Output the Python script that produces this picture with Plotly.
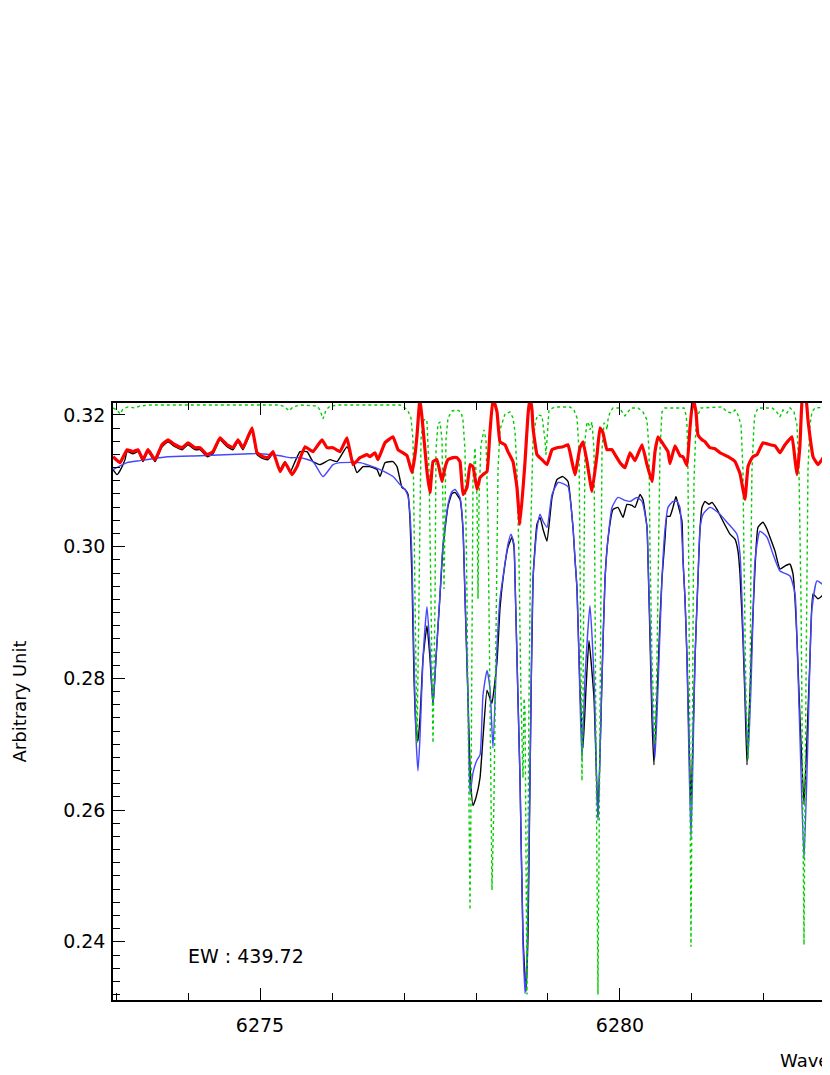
import plotly.graph_objects as go

# ---- data (wavelength in Angstrom, flux in arbitrary units) ----
blue_wl = [6272.958, 6273.153, 6273.333, 6273.708, 6274.167, 6274.861, 6275.000, 6275.278, 6275.417, 6275.556,
           6275.736, 6275.875, 6276.014, 6276.111, 6276.389, 6276.486, 6276.667, 6276.847, 6276.944, 6277.014,
           6277.056, 6277.083, 6277.111, 6277.139, 6277.167, 6277.194, 6277.222, 6277.264, 6277.319, 6277.361,
           6277.403, 6277.444, 6277.500, 6277.542, 6277.611, 6277.667, 6277.708, 6277.778, 6277.819, 6277.847,
           6277.889, 6277.917, 6277.958, 6278.014, 6278.056, 6278.097, 6278.153, 6278.194, 6278.236, 6278.292,
           6278.333, 6278.375, 6278.444, 6278.486, 6278.528, 6278.542, 6278.583, 6278.611, 6278.653, 6278.681,
           6278.708, 6278.750, 6278.792, 6278.847, 6278.889, 6278.931, 6278.986, 6279.056, 6279.139, 6279.208,
           6279.278, 6279.347, 6279.375, 6279.403, 6279.444, 6279.472, 6279.514, 6279.583, 6279.639, 6279.694,
           6279.750, 6279.792, 6279.833, 6279.889, 6279.972, 6280.069, 6280.139, 6280.236, 6280.306, 6280.375,
           6280.389, 6280.417, 6280.444, 6280.486, 6280.528, 6280.583, 6280.625, 6280.667, 6280.736, 6280.792,
           6280.833, 6280.875, 6280.903, 6280.931, 6280.958, 6280.986, 6281.014, 6281.042, 6281.083, 6281.111,
           6281.153, 6281.250, 6281.389, 6281.486, 6281.625, 6281.667, 6281.708, 6281.736, 6281.778, 6281.819,
           6281.847, 6281.875, 6281.944, 6282.042, 6282.125, 6282.222, 6282.361, 6282.431, 6282.458, 6282.500,
           6282.556, 6282.611, 6282.639, 6282.667, 6282.736, 6282.806, 6282.875, 6282.917]
blue_flux = [0.31170, 0.31275, 0.31306, 0.31366, 0.31381, 0.31411, 0.31411, 0.31381, 0.31351, 0.31351,
             0.31291, 0.31064, 0.31245, 0.31275, 0.31275, 0.31245, 0.31170, 0.31064, 0.30943, 0.30868,
             0.30762, 0.30491, 0.29811, 0.28302, 0.27094, 0.26596, 0.27094, 0.28302, 0.29087, 0.28453,
             0.27592, 0.28302, 0.29283, 0.30038, 0.30642, 0.30838, 0.30868, 0.30747, 0.30294, 0.29283,
             0.27698, 0.26234, 0.26566, 0.26762, 0.26838, 0.27743, 0.28121, 0.27849, 0.26943, 0.28498,
             0.29208, 0.29540, 0.30038, 0.30189, 0.30038, 0.29509, 0.27698, 0.26491, 0.23970, 0.23215,
             0.23728, 0.26491, 0.29509, 0.30264, 0.30491, 0.30385, 0.30294, 0.30792, 0.30974, 0.30958,
             0.30913, 0.30294, 0.29811, 0.29358, 0.27698, 0.26762, 0.28000, 0.29102, 0.28000, 0.25842,
             0.28000, 0.29509, 0.30113, 0.30596, 0.30747, 0.30702, 0.30687, 0.30747, 0.30687, 0.30294,
             0.29811, 0.28785, 0.27698, 0.26792, 0.27849, 0.29509, 0.30264, 0.30596, 0.30687, 0.30687,
             0.30596, 0.29781, 0.29208, 0.28272, 0.26792, 0.25585, 0.26792, 0.28302, 0.29509, 0.30264,
             0.30491, 0.30596, 0.30491, 0.30370, 0.30189, 0.29887, 0.28785, 0.27849, 0.26792, 0.27849,
             0.28906, 0.29781, 0.30234, 0.30143, 0.29887, 0.29630, 0.29555, 0.29283, 0.28604, 0.27094,
             0.25253, 0.27094, 0.28302, 0.29057, 0.29479, 0.29434, 0.29328, 0.29283]

black_wl = [6272.958, 6273.014, 6273.056, 6273.125, 6273.153, 6273.236, 6273.306, 6273.375, 6273.444, 6273.542,
            6273.639, 6273.722, 6273.819, 6273.917, 6274.000, 6274.097, 6274.167, 6274.264, 6274.347, 6274.444,
            6274.542, 6274.625, 6274.694, 6274.764, 6274.889, 6274.958, 6275.042, 6275.111, 6275.181, 6275.278,
            6275.347, 6275.417, 6275.486, 6275.556, 6275.653, 6275.736, 6275.833, 6275.972, 6276.069, 6276.208,
            6276.292, 6276.347, 6276.431, 6276.528, 6276.625, 6276.667, 6276.736, 6276.847, 6276.903, 6276.972,
            6277.014, 6277.056, 6277.083, 6277.111, 6277.139, 6277.167, 6277.194, 6277.222, 6277.264, 6277.319,
            6277.361, 6277.403, 6277.444, 6277.500, 6277.542, 6277.611, 6277.667, 6277.708, 6277.778, 6277.819,
            6277.847, 6277.889, 6277.917, 6277.958, 6278.000, 6278.056, 6278.097, 6278.153, 6278.194, 6278.222,
            6278.292, 6278.333, 6278.375, 6278.444, 6278.500, 6278.528, 6278.542, 6278.583, 6278.611, 6278.653,
            6278.694, 6278.722, 6278.750, 6278.792, 6278.847, 6278.889, 6278.931, 6278.986, 6279.056, 6279.125,
            6279.208, 6279.278, 6279.347, 6279.375, 6279.403, 6279.444, 6279.486, 6279.528, 6279.569, 6279.639,
            6279.694, 6279.750, 6279.792, 6279.833, 6279.903, 6279.972, 6280.042, 6280.097, 6280.167, 6280.208,
            6280.278, 6280.319, 6280.375, 6280.389, 6280.417, 6280.444, 6280.472, 6280.514, 6280.556, 6280.583,
            6280.625, 6280.653, 6280.694, 6280.736, 6280.778, 6280.806, 6280.861, 6280.875, 6280.903, 6280.931,
            6280.958, 6280.986, 6281.014, 6281.042, 6281.083, 6281.111, 6281.139, 6281.181, 6281.236, 6281.278,
            6281.347, 6281.431, 6281.528, 6281.597, 6281.639, 6281.667, 6281.708, 6281.736, 6281.764, 6281.792,
            6281.833, 6281.875, 6281.917, 6281.986, 6282.042, 6282.083, 6282.153, 6282.222, 6282.292, 6282.361,
            6282.403, 6282.431, 6282.458, 6282.500, 6282.556, 6282.597, 6282.639, 6282.681, 6282.750, 6282.806,
            6282.847, 6282.917]
black_flux = [0.31170, 0.31094, 0.31155, 0.31321, 0.31442, 0.31411, 0.31442, 0.31291, 0.31442, 0.31291,
              0.31517, 0.31592, 0.31517, 0.31472, 0.31547, 0.31472, 0.31472, 0.31366, 0.31411, 0.31623,
              0.31517, 0.31472, 0.31592, 0.31472, 0.31774, 0.31396, 0.31336, 0.31321, 0.31411, 0.31170,
              0.31291, 0.31125, 0.31291, 0.31442, 0.31442, 0.31291, 0.31245, 0.31321, 0.31291, 0.31517,
              0.31291, 0.31125, 0.31215, 0.31215, 0.31170, 0.31064, 0.31275, 0.31291, 0.31215, 0.30898,
              0.30868, 0.30792, 0.30415, 0.29509, 0.28000, 0.27245, 0.27049, 0.27396, 0.28302, 0.28800,
              0.28302, 0.27592, 0.28302, 0.29253, 0.29992, 0.30611, 0.30808, 0.30823, 0.30717, 0.30264,
              0.29238, 0.27698, 0.26642, 0.26068, 0.26189, 0.26491, 0.27094, 0.27819, 0.27698, 0.27623,
              0.28257, 0.29057, 0.29509, 0.29992, 0.30143, 0.29992, 0.29509, 0.27698, 0.26491, 0.24076,
              0.23245, 0.24076, 0.26491, 0.29509, 0.30340, 0.30445, 0.30264, 0.30083, 0.30747, 0.31019,
              0.31064, 0.30989, 0.30294, 0.29811, 0.29358, 0.27849, 0.26943, 0.27849, 0.28574, 0.27698,
              0.25887, 0.28000, 0.29509, 0.30113, 0.30566, 0.30596, 0.30445, 0.30642, 0.30626, 0.30596,
              0.30792, 0.30717, 0.30294, 0.29811, 0.28604, 0.27396, 0.26687, 0.27698, 0.28906, 0.29509,
              0.30113, 0.30460, 0.30460, 0.30596, 0.30762, 0.30642, 0.30385, 0.29811, 0.29208, 0.28302,
              0.27094, 0.26083, 0.27094, 0.28302, 0.29509, 0.30264, 0.30596, 0.30687, 0.30642, 0.30672,
              0.30566, 0.30385, 0.30189, 0.30113, 0.29932, 0.29585, 0.28604, 0.27698, 0.26687, 0.27396,
              0.28604, 0.29660, 0.30294, 0.30370, 0.30264, 0.30143, 0.29932, 0.29660, 0.29706, 0.29736,
              0.29585, 0.29208, 0.28604, 0.27396, 0.26083, 0.27094, 0.28302, 0.29283, 0.29208, 0.29253,
              0.29298, 0.29238]

red_wl = [6272.958, 6273.056, 6273.153, 6273.236, 6273.306, 6273.375, 6273.444, 6273.542, 6273.639, 6273.722,
          6273.819, 6273.917, 6274.000, 6274.097, 6274.167, 6274.264, 6274.347, 6274.444, 6274.542, 6274.625,
          6274.694, 6274.764, 6274.889, 6274.958, 6275.042, 6275.111, 6275.181, 6275.278, 6275.347, 6275.444,
          6275.514, 6275.625, 6275.736, 6275.861, 6275.931, 6276.014, 6276.111, 6276.208, 6276.292, 6276.389,
          6276.486, 6276.528, 6276.597, 6276.639, 6276.736, 6276.847, 6276.917, 6276.986, 6277.042, 6277.111,
          6277.153, 6277.181, 6277.222, 6277.264, 6277.319, 6277.361, 6277.403, 6277.458, 6277.528, 6277.569,
          6277.611, 6277.681, 6277.736, 6277.778, 6277.819, 6277.875, 6277.917, 6277.958, 6278.014, 6278.056,
          6278.097, 6278.153, 6278.194, 6278.236, 6278.292, 6278.333, 6278.403, 6278.444, 6278.514, 6278.569,
          6278.611, 6278.681, 6278.722, 6278.750, 6278.778, 6278.792, 6278.847, 6278.917, 6278.986, 6279.056,
          6279.125, 6279.208, 6279.278, 6279.333, 6279.375, 6279.444, 6279.486, 6279.542, 6279.611, 6279.681,
          6279.722, 6279.764, 6279.819, 6279.889, 6279.931, 6280.000, 6280.069, 6280.139, 6280.208, 6280.306,
          6280.375, 6280.444, 6280.486, 6280.528, 6280.597, 6280.667, 6280.694, 6280.764, 6280.833, 6280.875,
          6280.931, 6280.972, 6281.014, 6281.056, 6281.083, 6281.139, 6281.181, 6281.250, 6281.319, 6281.389,
          6281.500, 6281.597, 6281.667, 6281.708, 6281.736, 6281.778, 6281.806, 6281.847, 6281.903, 6281.986,
          6282.083, 6282.153, 6282.222, 6282.292, 6282.389, 6282.431, 6282.458, 6282.500, 6282.528, 6282.556,
          6282.583, 6282.611, 6282.639, 6282.681, 6282.750, 6282.806, 6282.847, 6282.917]
red_flux = [0.31366, 0.31275, 0.31472, 0.31442, 0.31472, 0.31321, 0.31472, 0.31321, 0.31547, 0.31623,
            0.31547, 0.31502, 0.31577, 0.31502, 0.31502, 0.31396, 0.31442, 0.31653, 0.31547, 0.31502,
            0.31623, 0.31502, 0.31804, 0.31426, 0.31366, 0.31351, 0.31442, 0.31140, 0.31275, 0.31094,
            0.31215, 0.31517, 0.31442, 0.31623, 0.31502, 0.31502, 0.31442, 0.31653, 0.31245, 0.31351,
            0.31396, 0.31366, 0.31426, 0.31321, 0.31577, 0.31668, 0.31472, 0.31426, 0.31381, 0.31125,
            0.31396, 0.31698, 0.32257, 0.31804, 0.31140, 0.30823, 0.31291, 0.31321, 0.30989, 0.31200,
            0.31321, 0.31351, 0.31351, 0.31291, 0.30792, 0.30898, 0.31245, 0.31215, 0.30868, 0.31049,
            0.31094, 0.31140, 0.31743, 0.32257, 0.32045, 0.31592, 0.31547, 0.31442, 0.31291, 0.30898,
            0.30340, 0.31291, 0.32000, 0.32257, 0.32075, 0.31804, 0.31396, 0.31321, 0.31245, 0.31472,
            0.31502, 0.31517, 0.31547, 0.31291, 0.31094, 0.31502, 0.31592, 0.31291, 0.30838, 0.31396,
            0.31804, 0.31728, 0.31472, 0.31472, 0.31396, 0.31275, 0.31200, 0.31426, 0.31306, 0.31547,
            0.31245, 0.30989, 0.31442, 0.31668, 0.31562, 0.31442, 0.31260, 0.31532, 0.31381, 0.31366,
            0.31230, 0.31804, 0.32257, 0.32045, 0.31698, 0.31623, 0.31592, 0.31502, 0.31487, 0.31426,
            0.31366, 0.31291, 0.31109, 0.30868, 0.30717, 0.31215, 0.31291, 0.31366, 0.31396, 0.31577,
            0.31547, 0.31532, 0.31426, 0.31547, 0.31668, 0.31321, 0.31094, 0.31547, 0.32200, 0.32280,
            0.32257, 0.31925, 0.31668, 0.31366, 0.31245, 0.31321, 0.31396, 0.31517]

green_wl = [6272.958, 6273.014, 6273.056, 6273.097, 6273.167, 6273.264, 6273.333, 6273.472, 6275.278, 6275.347,
            6275.403, 6275.458, 6275.556, 6275.792, 6275.833, 6275.875, 6275.917, 6275.972, 6276.111, 6276.944,
            6277.014, 6277.056, 6277.097, 6277.125, 6277.153, 6277.181, 6277.208, 6277.236, 6277.264, 6277.292,
            6277.319, 6277.347, 6277.375, 6277.403, 6277.431, 6277.444, 6277.472, 6277.500, 6277.528, 6277.542,
            6277.556, 6277.569, 6277.583, 6277.611, 6277.667, 6277.736, 6277.792, 6277.819, 6277.847, 6277.875,
            6277.903, 6277.917, 6277.931, 6277.944, 6277.958, 6277.986, 6278.014, 6278.028, 6278.042, 6278.069,
            6278.111, 6278.139, 6278.167, 6278.194, 6278.222, 6278.250, 6278.278, 6278.306, 6278.333, 6278.403,
            6278.472, 6278.514, 6278.542, 6278.569, 6278.597, 6278.625, 6278.653, 6278.667, 6278.681, 6278.694,
            6278.708, 6278.722, 6278.736, 6278.764, 6278.792, 6278.833, 6278.861, 6278.917, 6278.958, 6278.972,
            6278.986, 6279.014, 6279.097, 6279.306, 6279.361, 6279.403, 6279.431, 6279.444, 6279.458, 6279.472,
            6279.486, 6279.500, 6279.514, 6279.542, 6279.569, 6279.583, 6279.611, 6279.639, 6279.653, 6279.667,
            6279.694, 6279.722, 6279.736, 6279.750, 6279.778, 6279.806, 6279.819, 6279.833, 6279.861, 6279.903,
            6280.000, 6280.028, 6280.069, 6280.111, 6280.153, 6280.250, 6280.319, 6280.375, 6280.403, 6280.417,
            6280.444, 6280.486, 6280.514, 6280.542, 6280.556, 6280.583, 6280.625, 6280.889, 6280.917, 6280.931,
            6280.944, 6280.958, 6280.972, 6280.986, 6281.000, 6281.014, 6281.028, 6281.056, 6281.083, 6281.125,
            6281.417, 6281.486, 6281.556, 6281.597, 6281.639, 6281.681, 6281.708, 6281.722, 6281.750, 6281.778,
            6281.806, 6281.819, 6281.833, 6281.861, 6281.875, 6281.917, 6282.111, 6282.167, 6282.222, 6282.264,
            6282.319, 6282.361, 6282.417, 6282.458, 6282.486, 6282.514, 6282.542, 6282.556, 6282.569, 6282.597,
            6282.611, 6282.639, 6282.667, 6282.708, 6282.917]
green_flux = [0.32106, 0.32075, 0.32015, 0.32091, 0.32121, 0.32106, 0.32136, 0.32151, 0.32151, 0.32121,
              0.32060, 0.32121, 0.32151, 0.32136, 0.32075, 0.31940, 0.32075, 0.32136, 0.32151, 0.32151,
              0.32106, 0.32060, 0.31955, 0.31623, 0.29208, 0.27019, 0.29208, 0.31623, 0.31894, 0.31940,
              0.31894, 0.31170, 0.29208, 0.27019, 0.29208, 0.31472, 0.31864, 0.31894, 0.31623, 0.30415,
              0.29358, 0.30415, 0.31623, 0.31955, 0.32060, 0.32075, 0.32045, 0.31925, 0.31472, 0.29208,
              0.26189, 0.24483, 0.26189, 0.29208, 0.31019, 0.31502, 0.30717, 0.29208, 0.30717, 0.31547,
              0.31774, 0.31623, 0.30415, 0.27698, 0.24785, 0.26189, 0.29208, 0.31170, 0.31774, 0.32015,
              0.32045, 0.31955, 0.31743, 0.31170, 0.29811, 0.27698, 0.26491, 0.27698, 0.27517, 0.25434,
              0.23200, 0.25434, 0.27698, 0.30415, 0.31623, 0.31925, 0.32000, 0.31985, 0.31623, 0.31396,
              0.31623, 0.32075, 0.32121, 0.32121, 0.32075, 0.31955, 0.31472, 0.29811, 0.27698, 0.26445,
              0.27698, 0.29811, 0.31623, 0.31894, 0.31849, 0.31774, 0.31894, 0.31472, 0.29811, 0.26943,
              0.23200, 0.26943, 0.29811, 0.31472, 0.31879, 0.31849, 0.31774, 0.31925, 0.32045, 0.32106,
              0.32106, 0.32045, 0.31985, 0.32045, 0.32106, 0.32106, 0.32045, 0.31925, 0.31472, 0.29962,
              0.28302, 0.26989, 0.28302, 0.30415, 0.31472, 0.32045, 0.32106, 0.32106, 0.32000, 0.31849,
              0.31170, 0.29208, 0.26189, 0.23925, 0.26189, 0.29208, 0.31019, 0.31849, 0.32000, 0.32106,
              0.32121, 0.32045, 0.32030, 0.32075, 0.32000, 0.31849, 0.31170, 0.29811, 0.27698, 0.26762,
              0.27698, 0.29811, 0.31170, 0.31849, 0.32000, 0.32106, 0.32106, 0.32060, 0.31970, 0.32075,
              0.32030, 0.32106, 0.32045, 0.31849, 0.31170, 0.29208, 0.26189, 0.23955, 0.26189, 0.29208,
              0.31170, 0.31849, 0.32045, 0.32106, 0.32121]

x_ticks = [6275, 6280]
y_ticks = [0.24, 0.26, 0.28, 0.30, 0.32]
ew_label = "EW : 439.72"
x_title = "Wavelength (Å)"
y_title = "Arbitrary Unit"

FONT = "DejaVu Sans"

fig = go.Figure()
fig.add_trace(go.Scatter(x=black_wl, y=black_flux, mode="lines",
                         line=dict(color="black", width=1.4, shape="spline", smoothing=0.4), name="observed"))
fig.add_trace(go.Scatter(x=blue_wl, y=blue_flux, mode="lines",
                         line=dict(color="rgb(70,70,255)", width=1.4, shape="spline", smoothing=0.5), name="model"))
fig.add_trace(go.Scatter(x=green_wl, y=green_flux, mode="lines",
                         line=dict(color="rgb(0,205,0)", width=1.4, dash="dot"), name="telluric"))
fig.add_trace(go.Scatter(x=red_wl, y=red_flux, mode="lines",
                         line=dict(color="rgb(255,0,0)", width=3.2, shape="spline", smoothing=0.3), name="corrected"))

fig.update_layout(
    width=822, height=1067,
    margin=dict(l=105, r=0, t=395, b=75),
    plot_bgcolor="white", paper_bgcolor="white",
    showlegend=False,
    font=dict(family=FONT, size=19, color="black"),
)
fig.update_xaxes(
    range=[6272.958, 6282.917], tickvals=x_ticks, ticktext=[str(v) for v in x_ticks],
    showline=True, linecolor="black", linewidth=1.5, mirror="ticks",
    ticks="inside", ticklen=12, tickwidth=1.4, tickcolor="black",
    showgrid=False, zeroline=False, ticklabelstandoff=7,
    minor=dict(ticks="inside", ticklen=7, tickwidth=1.2, tickcolor="black", dtick=1, tick0=6275, showgrid=False),
    tickfont=dict(family=FONT, size=19),
)
fig.update_yaxes(
    range=[0.23117, 0.32181], tickvals=y_ticks, ticktext=[f"{v:.2f}" for v in y_ticks],
    showline=True, linecolor="black", linewidth=1.5, mirror=False,
    ticks="inside", ticklen=12, tickwidth=1.4, tickcolor="black",
    showgrid=False, zeroline=False, ticklabelstandoff=2,
    minor=dict(ticks="inside", ticklen=7, tickwidth=1.2, tickcolor="black", dtick=0.002, tick0=0.24, showgrid=False),
    tickfont=dict(family=FONT, size=19),
)
fig.add_annotation(text=y_title, xref="paper", yref="paper", x=0, y=0.5, xshift=-94,
                   textangle=-90, showarrow=False, xanchor="center", yanchor="middle",
                   font=dict(family=FONT, size=18))
fig.add_annotation(text=x_title, xref="paper", yref="paper", x=(778 - 113) / 717, y=0, yshift=-60,
                   showarrow=False, xanchor="left", yanchor="middle", font=dict(family=FONT, size=18))
fig.add_annotation(text=ew_label, xref="paper", yref="paper", x=(186 - 113) / 717, y=44 / 597,
                   showarrow=False, xanchor="left", yanchor="middle", font=dict(family=FONT, size=19))

fig.write_html("out.html")
